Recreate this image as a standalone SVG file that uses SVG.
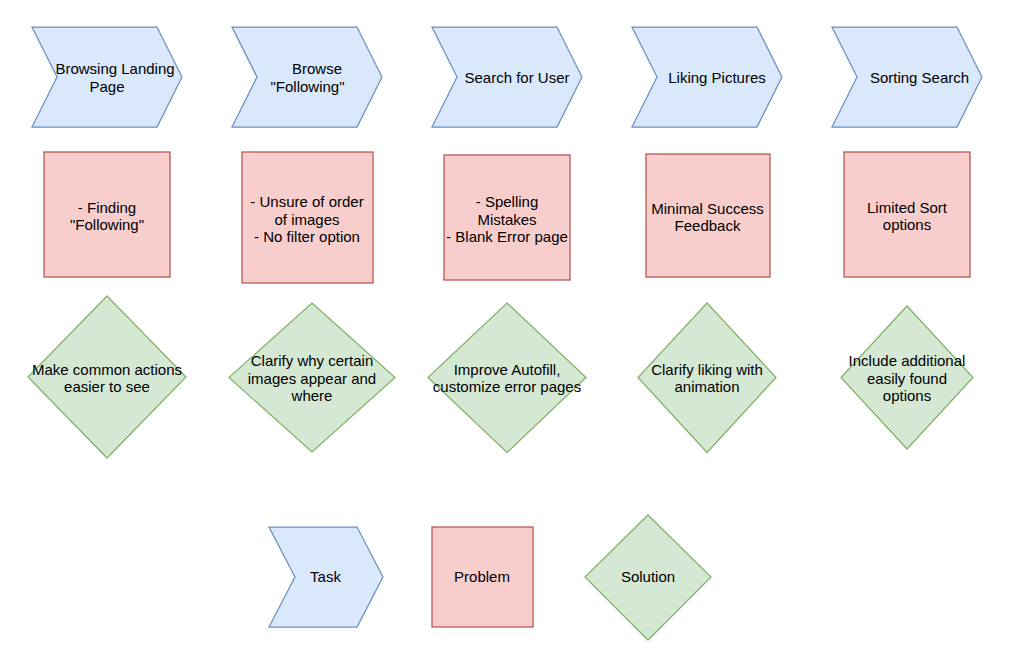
<svg xmlns="http://www.w3.org/2000/svg" width="1009" height="661" viewBox="0 0 1009 661">
<style>
.task{fill:#dae8fc;stroke:#6c8ebf;stroke-width:1.25}
.prob{fill:#f8cecc;stroke:#b85450;stroke-width:1.25}
.sol{fill:#d5e8d4;stroke:#82b366;stroke-width:1.25}
text{font-family:"Liberation Sans",Arial,Helvetica,sans-serif;font-size:15px;fill:#000;text-anchor:middle}
</style>
<rect width="1009" height="661" fill="#fff"/>
<g id="connectors"/>
<g id="task1"><polygon class="task" points="32,27 157,27 182,77 157,127 32,127 57,77"/><text x="115" y="74">Browsing Landing</text><text x="107" y="92">Page</text></g>
<g id="task2"><polygon class="task" points="232,27 357,27 382,77 357,127 232,127 257,77"/><text x="317" y="74">Browse</text><text x="307.5" y="92">"Following"</text></g>
<g id="task3"><polygon class="task" points="432,27 557,27 582,77 557,127 432,127 457,77"/><text x="517" y="83">Search for User</text></g>
<g id="task4"><polygon class="task" points="632,27 757,27 782,77 757,127 632,127 657,77"/><text x="717" y="83">Liking Pictures</text></g>
<g id="task5"><polygon class="task" points="832,27 957,27 982,77 957,127 832,127 857,77"/><text x="919.5" y="83">Sorting Search</text></g>
<g id="problem1"><rect class="prob" x="44" y="152" width="126" height="125"/><text x="107" y="212.5">- Finding</text><text x="107" y="230">"Following"</text></g>
<g id="problem2"><rect class="prob" x="242" y="152" width="131" height="131"/><text x="307" y="207">- Unsure of order</text><text x="307" y="224.5">of images</text><text x="307" y="242">- No filter option</text></g>
<g id="problem3"><rect class="prob" x="444" y="155" width="126" height="125"/><text x="507" y="207">- Spelling</text><text x="507" y="224.5">Mistakes</text><text x="507" y="242">- Blank Error page</text></g>
<g id="problem4"><rect class="prob" x="646" y="154" width="124" height="123"/><text x="707.5" y="213.5">Minimal Success</text><text x="707.5" y="231">Feedback</text></g>
<g id="problem5"><rect class="prob" x="844" y="152" width="126" height="125"/><text x="907" y="212.5">Limited Sort</text><text x="907" y="230">options</text></g>
<g id="solution1"><polygon class="sol" points="107,296 186,377 107,458 28,377"/><text x="107" y="374.5">Make common actions</text><text x="107" y="392">easier to see</text></g>
<g id="solution2"><polygon class="sol" points="312,303 395,377.5 312,452 229,377.5"/><text x="312" y="366">Clarify why certain</text><text x="312" y="383.5">images appear and</text><text x="312" y="401">where</text></g>
<g id="solution3"><polygon class="sol" points="507,303 586,377.5 507,452.5 428,377.5"/><text x="507" y="374.5">Improve Autofill,</text><text x="507" y="392">customize error pages</text></g>
<g id="solution4"><polygon class="sol" points="707,303 776,377.5 707,452.5 638,377.5"/><text x="707" y="374.5">Clarify liking with</text><text x="707" y="392">animation</text></g>
<g id="solution5"><polygon class="sol" points="907,306 973,377.5 907,449 841,377.5"/><text x="907" y="366">Include additional</text><text x="907" y="383.5">easily found</text><text x="907" y="401">options</text></g>
<g id="legend-task"><polygon class="task" points="269,527 357,527 383,577 357,627 269,627 295,577"/><text x="325.5" y="582">Task</text></g>
<g id="legend-problem"><rect class="prob" x="432" y="527" width="101" height="100"/><text x="482" y="582">Problem</text></g>
<g id="legend-solution"><polygon class="sol" points="648,515 711,577 648,640 585,577"/><text x="648" y="582">Solution</text></g>
</svg>
